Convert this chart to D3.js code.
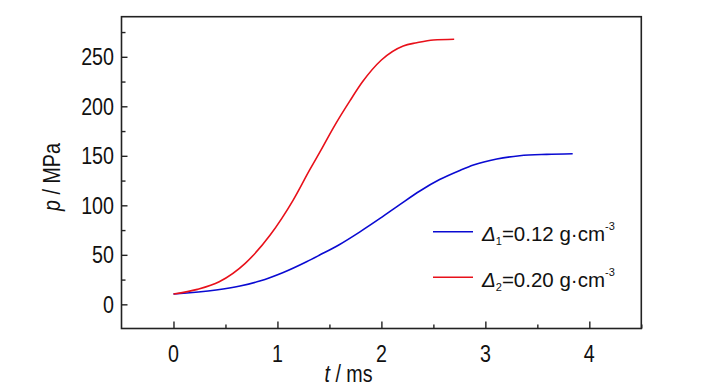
<!DOCTYPE html>
<html>
<head>
<meta charset="utf-8">
<script src="https://cdn.jsdelivr.net/npm/d3@7"></script>
<style>
  html, body { margin: 0; padding: 0; background: #fff; }
  svg { display: block; }
  text { font-family: "Liberation Sans", Arial, sans-serif; fill: #111; }
</style>
</head>
<body>
<svg id="chart" width="728" height="390"></svg>
<script>
// ---- data ----
const blueT = [0, 0.41, 0.64, 0.83, 1.05, 1.28, 1.41, 1.59, 1.79, 1.99, 2.18, 2.37, 2.56, 2.76, 2.885, 3.11, 3.33, 3.59, 3.84];
const blueP = [10.4, 14.4, 18.5, 23.5, 31.9, 43, 50, 60, 73, 87, 101, 114.5, 126, 135.5, 140.7, 146.8, 150.1, 151.5, 152.1];
const redT = [0, 0.23, 0.44, 0.69, 0.93, 1.15, 1.31, 1.42, 1.535, 1.70, 1.82, 2.0, 2.21, 2.34, 2.50, 2.70];
const redP = [10.4, 15.1, 22.8, 41.4, 70, 105, 135.7, 156, 177.8, 206, 225, 246.8, 261, 264.2, 267, 267.7];
const xTicks = [0, 1, 2, 3, 4];
const yTicks = [0, 50, 100, 150, 200, 250];
const seriesNames = [["\u0394", "1", "=0.12 g\u00b7cm", "-3"], ["\u0394", "2", "=0.20 g\u00b7cm", "-3"]];
const seriesColors = ["#0a0ad2", "#e8101a"];

// ---- layout ----
const svg = d3.select("#chart");
const L = 121.5, R = 641.3, T = 16.7, B = 328.5;
const x = d3.scaleLinear().domain([-0.5, 4.5]).range([L, R]);
const y = d3.scaleLinear().domain([-24.4, 290.5]).range([B, T]);
const NARROW = 0.82, FS = 24;

// frame
svg.append("rect").attr("x", L).attr("y", T).attr("width", R - L).attr("height", B - T)
  .attr("fill", "none").attr("stroke", "#222").attr("stroke-width", 1.6);

// x axis ticks (inward)
const xAxis = d3.axisBottom(x).tickValues(d3.range(0, 4.51, 0.5)).tickSize(-6).tickFormat("");
const gx = svg.append("g").attr("transform", `translate(0,${B})`).call(xAxis);
gx.select(".domain").remove();
gx.selectAll(".tick line").attr("stroke", "#222").attr("stroke-width", 1.4)
  .attr("y2", d => (Math.abs(d - Math.round(d)) < 1e-9 ? -7 : -4));
svg.append("g").selectAll("text").data(xTicks).join("text")
  .attr("transform", d => `translate(${x(d)},361.5) scale(${NARROW},1)`)
  .attr("text-anchor", "middle").attr("font-size", FS).text(d => d);

// y axis ticks (inward)
const yAxis = d3.axisLeft(y).tickValues(d3.range(0, 276, 25)).tickSize(-6).tickFormat("");
const gy = svg.append("g").attr("transform", `translate(${L},0)`).call(yAxis);
gy.select(".domain").remove();
gy.selectAll(".tick line").attr("stroke", "#222").attr("stroke-width", 1.4)
  .attr("x2", d => (d % 50 === 0 ? 6 : 4));
svg.append("g").selectAll("text").data(yTicks).join("text")
  .attr("transform", d => `translate(114,${y(d) + 8.6}) scale(${NARROW},1)`)
  .attr("text-anchor", "end").attr("font-size", FS).text(d => d);

// axis titles
const yt = svg.append("text").attr("transform", `translate(59.5,177) rotate(-90) scale(${NARROW},1)`)
  .attr("text-anchor", "middle").attr("font-size", FS);
yt.append("tspan").attr("font-style", "italic").text("p");
yt.append("tspan").text(" / MPa");
const xt = svg.append("text").attr("transform", `translate(348.5,381.7) scale(${NARROW},1)`)
  .attr("text-anchor", "middle").attr("font-size", FS);
xt.append("tspan").attr("font-style", "italic").text("t");
xt.append("tspan").text(" / ms");

// curves
const line = d3.line().x(d => x(d[0])).y(d => y(d[1])).curve(d3.curveMonotoneX);
const series = [d3.zip(blueT, blueP), d3.zip(redT, redP)];
svg.append("g").selectAll("path").data(series).join("path")
  .attr("d", line).attr("fill", "none")
  .attr("stroke", (d, i) => seriesColors[i]).attr("stroke-width", 1.6);

// legend
const legY = [231.7, 277.3];
const leg = svg.append("g");
seriesNames.forEach((n, i) => {
  leg.append("line").attr("x1", 433).attr("x2", 473).attr("y1", legY[i]).attr("y2", legY[i])
    .attr("stroke", seriesColors[i]).attr("stroke-width", 1.6);
  const t = leg.append("text").attr("x", 482).attr("y", legY[i] + 9.5).attr("font-size", 20.5);
  t.append("tspan").attr("font-style", "italic").text(n[0]);
  t.append("tspan").attr("font-size", 11).attr("dy", 4).text(n[1]);
  t.append("tspan").attr("dy", -4).text(n[2]);
  t.append("tspan").attr("font-size", 11).attr("dy", -11).text(n[3]);
});
</script>
</body>
</html>
